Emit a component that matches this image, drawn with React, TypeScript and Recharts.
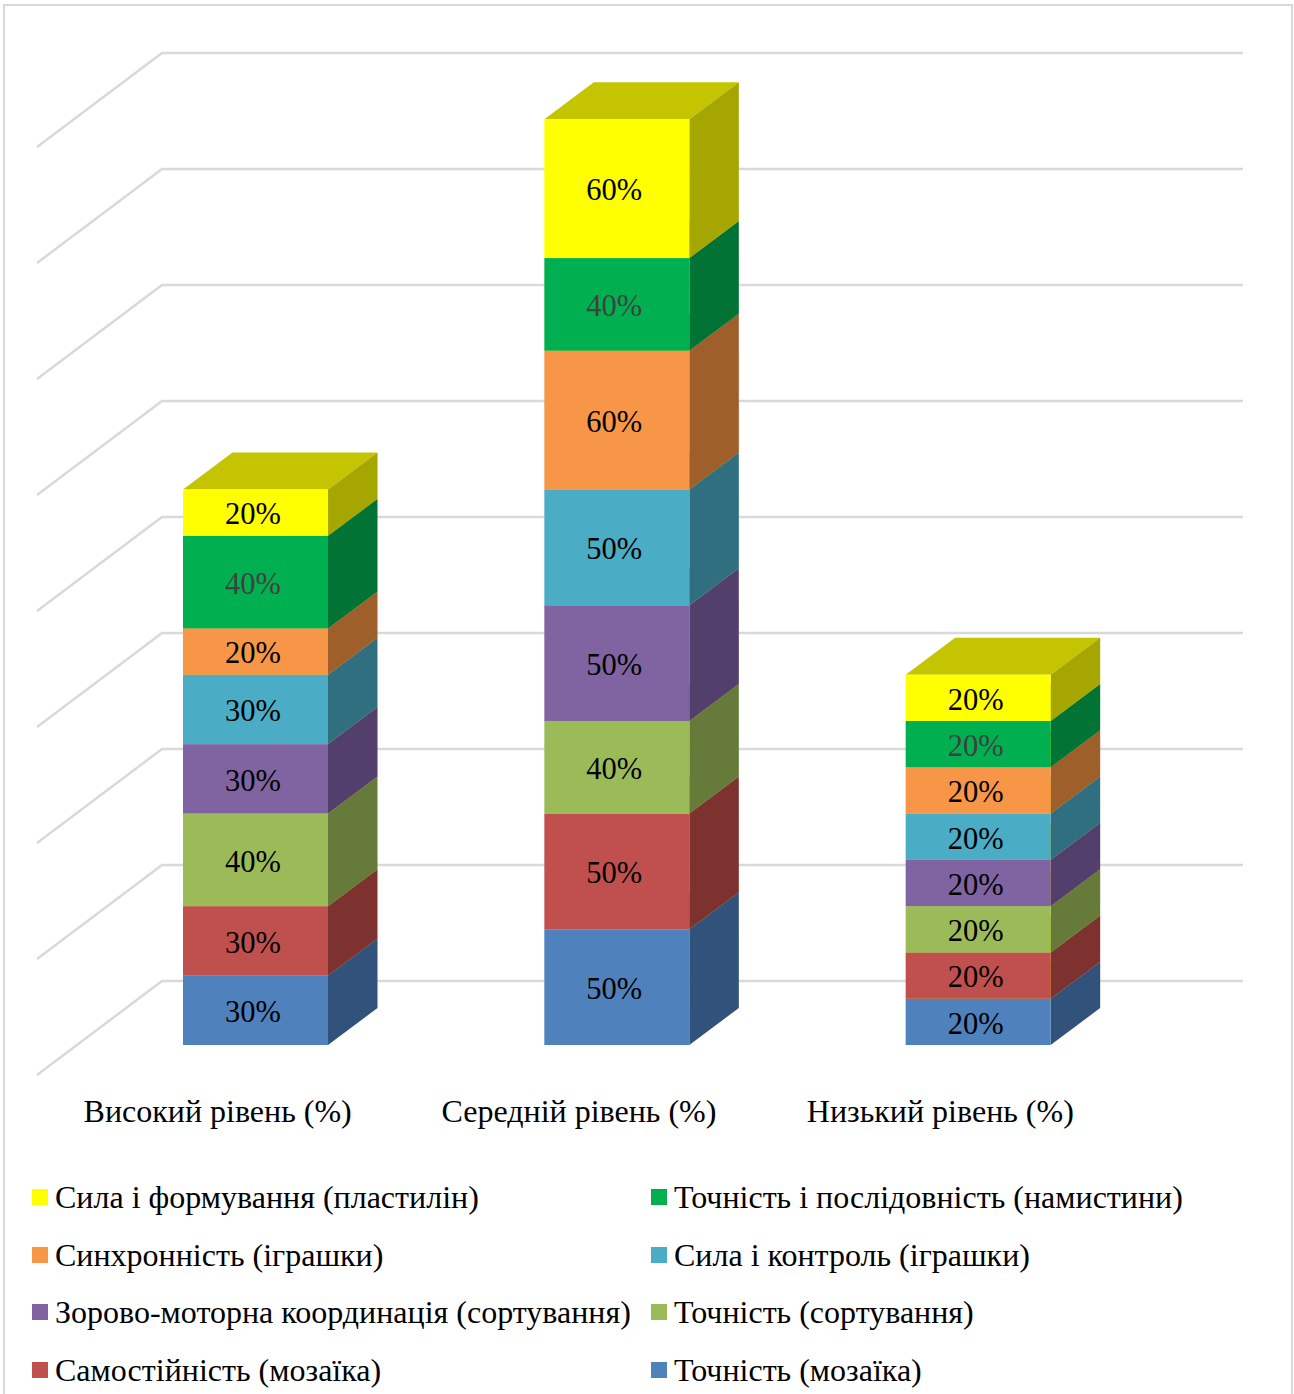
import React from 'react';
import { BarChart, Bar, XAxis, YAxis, CartesianGrid, LabelList, Legend } from 'recharts';

const categories = ['Високий рівень (%)', 'Середній рівень (%)', 'Низький рівень (%)'];

const seriesNames = [
  'Точність (мозаїка)',
  'Самостійність (мозаїка)',
  'Точність (сортування)',
  'Зорово-моторна координація (сортування)',
  'Сила і контроль (іграшки)',
  'Синхронність (іграшки)',
  'Точність і послідовність (намистини)',
  'Сила і формування (пластилін)',
];

const tochnistMozaika = [30, 50, 20];
const samostiinist = [30, 50, 20];
const tochnistSort = [40, 40, 20];
const koordynatsiia = [30, 50, 20];
const sylaKontrol = [30, 50, 20];
const synkhronnist = [20, 60, 20];
const namystyny = [40, 40, 20];
const plastylin = [20, 60, 20];

const seriesValues = [
  tochnistMozaika,
  samostiinist,
  tochnistSort,
  koordynatsiia,
  sylaKontrol,
  synkhronnist,
  namystyny,
  plastylin,
];

const frontColors = ['#4F81BD', '#C0504D', '#9BBB59', '#8064A2', '#4BACC6', '#F79646', '#00B050', '#FFFF00'];
const sideColors = ['#31527A', '#7D3230', '#667B3A', '#533F6B', '#306F80', '#9E5F2A', '#007335', '#A6A600'];
const labelColors = ['#000', '#000', '#000', '#000', '#000', '#000', '#404040', '#000'];
const wallTicks = [0, 50, 100, 150, 200, 250, 300, 350, 400];

const chartData = categories.map((name, i) => {
  const row: any = { name };
  seriesNames.forEach((s, k) => {
    row[s] = seriesValues[k][i];
  });
  return row;
});

const FONT = '"Liberation Serif", serif';
const DEPTH_X = 49.5;
const DEPTH_Y = 37;

// front face plus the side and top faces of the extruded column
const box3d = (side: string, top: string) => (props: any) => {
  const { x, y, width, height, fill } = props;
  const r = x + width;
  return (
    <g>
      <polygon points={`${x},${y} ${x + DEPTH_X},${y - DEPTH_Y} ${r + DEPTH_X},${y - DEPTH_Y} ${r},${y}`} fill={top} />
      <polygon
        points={`${r},${y} ${r + DEPTH_X},${y - DEPTH_Y} ${r + DEPTH_X},${y + height - DEPTH_Y} ${r},${y + height}`}
        fill={side}
      />
      <rect x={x} y={y} width={width} height={height} fill={fill} />
    </g>
  );
};

// back wall line with its diagonal running down the side wall
const wallLine = (props: any) => {
  const { x1, x2, y1 } = props;
  return (
    <g key={props.key ?? y1}>
      <polyline
        points={`${x1 - 38},${y1 + 94} ${x1 + 87},${y1} ${x2},${y1}`}
        fill="none"
        stroke="#D9D9D9"
        strokeWidth={2.5}
      />
    </g>
  );
};

const legendContent = (props: any) => {
  const items = [...(props.payload || [])].reverse();
  return (
    <div style={{ position: 'relative', width: 1294, height: 240, fontFamily: FONT, fontSize: 32, color: '#000' }}>
      {items.map((it: any, i: number) => (
        <div
          key={it.value}
          style={{
            position: 'absolute',
            left: i % 2 === 0 ? 32 : 651,
            top: Math.floor(i / 2) * 57.6,
            height: 40,
            lineHeight: '40px',
            whiteSpace: 'nowrap',
          }}
        >
          <span style={{ position: 'absolute', left: 0, top: 12, width: 16, height: 16, background: it.color }} />
          <span style={{ marginLeft: 23 }}>{it.value}</span>
        </div>
      ))}
    </div>
  );
};

export default function App() {
  return (
    <div style={{ position: 'absolute', left: 0, top: 0, width: 1294, height: 1394, overflow: 'hidden', background: '#fff' }}>
      <div
        style={{
          position: 'absolute',
          left: 3,
          top: 4,
          width: 1290,
          height: 1400,
          border: '2px solid #D9D9D9',
          boxSizing: 'border-box',
        }}
      />
      <div style={{ position: 'absolute', left: 0, top: 0 }}>
        <BarChart
          width={1294}
          height={1394}
          data={chartData}
          barSize={145}
          margin={{ top: 53, left: 75, right: 51, bottom: 249 }}
        >
          <CartesianGrid yAxisId="wall" vertical={false} horizontal={wallLine} syncWithTicks />
          <XAxis
            dataKey="name"
            height={100}
            axisLine={false}
            tickLine={false}
            padding={{ left: 0, right: 84 }}
            interval={0}
            dx={-38}
            dy={46}
            tick={{ fill: '#000', fontSize: 32, fontFamily: FONT }}
          />
          <YAxis yAxisId="bars" hide domain={[0, 428.6]} allowDataOverflow />
          <YAxis yAxisId="wall" hide domain={[-27.586, 400]} ticks={wallTicks} allowDataOverflow />
          <Legend
            layout="horizontal"
            verticalAlign="middle"
            align="center"
            itemSorter={null}
            content={legendContent}
            wrapperStyle={{ position: 'absolute', left: 0, top: 1177, width: 1294 }}
          />
          {seriesNames.map((s, k) => (
            <Bar
              key={s}
              dataKey={s}
              yAxisId="bars"
              stackId="a"
              fill={frontColors[k]}
              shape={box3d(sideColors[k], '#C4C400')}
              isAnimationActive={false}
            >
              <LabelList
                dataKey={s}
                position="center"
                formatter={(v: any) => `${v}%`}
                fill={labelColors[k]}
                fontSize={30.5}
                fontFamily={FONT}
                dx={-2.5}
                dy={1}
              />
            </Bar>
          ))}
        </BarChart>
      </div>
    </div>
  );
}
